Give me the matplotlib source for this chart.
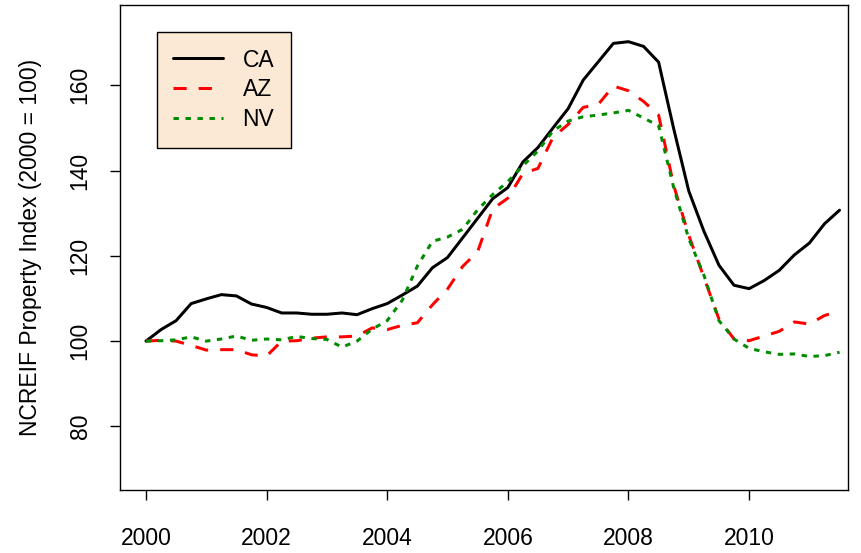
import matplotlib
matplotlib.use("Agg")
import matplotlib.pyplot as plt
import numpy as np

plt.rcParams['font.family'] = ['Liberation Sans', 'DejaVu Sans']

# quarterly index values, 2000Q1 .. 2011Q3 (2000 = 100)
years = 2000 + np.arange(47) / 4.0

ca = [100.0, 102.7, 104.8, 108.8, 109.9, 110.9, 110.6, 108.7, 107.9, 106.6,
      106.6, 106.3, 106.3, 106.6, 106.2, 107.6, 108.8, 110.8, 112.9, 117.2,
      119.6, 124.2, 128.8, 133.4, 136.0, 142.0, 145.4, 150.0, 154.5, 161.2,
      165.5, 169.8, 170.2, 169.1, 165.4, 149.8, 135.2, 125.8, 117.8, 113.1,
      112.3, 114.2, 116.6, 120.2, 123.0, 127.5, 130.7]

az = [100.0, 100.2, 100.0, 99.0, 97.9, 98.0, 98.0, 96.8, 96.5, 100.0,
      100.1, 100.7, 101.0, 101.0, 101.2, 103.1, 102.7, 103.7, 104.3, 108.5,
      112.2, 117.5, 121.0, 131.0, 133.5, 139.3, 140.5, 147.8, 150.8, 154.8,
      155.5, 159.8, 158.7, 156.2, 153.0, 136.5, 124.8, 115.0, 105.2, 100.5,
      100.1, 101.2, 102.3, 104.5, 104.0, 106.0, 107.1]

nv = [100.0, 100.1, 100.3, 101.0, 100.0, 100.5, 101.2, 100.2, 100.5, 100.3,
      101.1, 100.6, 100.4, 98.6, 100.0, 102.8, 104.8, 109.6, 117.6, 123.4,
      124.4, 126.2, 130.8, 134.4, 137.4, 141.1, 144.6, 149.3, 151.6, 152.6,
      153.0, 153.5, 154.1, 152.3, 150.5, 136.0, 124.0, 115.5, 104.8, 100.5,
      98.3, 97.5, 96.9, 97.0, 96.4, 96.6, 97.4]

series_names = ["CA", "AZ", "NV"]
xticks = [2000, 2002, 2004, 2006, 2008, 2010]
yticks = [80, 100, 120, 140, 160]

fig = plt.figure(figsize=(8.61, 5.53), dpi=100)
ax = fig.add_axes([120 / 861, 63 / 553, 728 / 861, 485 / 553])

lw = 2.16
ax.plot(years, ca, color="black", lw=lw, solid_capstyle="round", label=series_names[0])
ax.plot(years, az, color="#FF0000", lw=lw, dashes=(4.4, 4), label=series_names[1])
ax.plot(years, nv, color="#008B00", lw=lw, dashes=(1.8, 2.2), label=series_names[2])

ax.set_xlim(1999.57, 2011.64)
ax.set_ylim(65.1, 178.8)
ax.set_xticks(xticks)
ax.set_yticks(yticks)
ax.set_xticklabels([str(t) for t in xticks])
ax.set_yticklabels([str(t) for t in yticks], rotation=90, va="center")

ax.tick_params(axis="both", direction="out", length=7.5, width=1, labelsize=16.5, colors="black")
ax.tick_params(axis="x", pad=19)
ax.tick_params(axis="y", pad=13)
for sp in ax.spines.values():
    sp.set_linewidth(1)
    sp.set_color("black")

ax.set_ylabel("NCREIF Property Index (2000 = 100)", fontsize=16.5, va="center")
ax.yaxis.set_label_coords(-0.1236, 0.5)

# legend box, top-left corner placed like the original
leg = ax.legend(loc="upper left", bbox_to_anchor=(0.0508, 0.9443), borderaxespad=0,
                fontsize=16.5, handlelength=2.14, handletextpad=0.87, borderpad=0.72,
                labelspacing=0.3, fancybox=False, framealpha=1, edgecolor="black",
                facecolor="#FCE9D5")
leg.get_frame().set_linewidth(1)

fig.savefig("out.png", dpi=100)
